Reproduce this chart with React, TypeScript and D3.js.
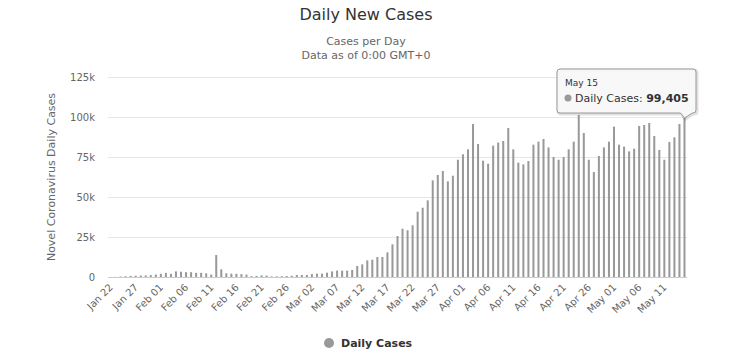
import React, { useEffect, useRef } from 'react';
import * as d3 from 'd3';

// daily new cases, Jan 22 .. May 15
const dailyCases = [
  0, 100, 290, 490, 680,
  800, 900, 1000, 1200, 1500,
  2000, 2600, 2000, 3500, 3300, 3000, 3000, 2600, 2600, 2300, 1500,
  13750, 4800, 2300, 2100, 2000, 1800, 1500, 500, 700, 1000,
  900, 400, 400, 500,
  600, 800, 1250, 1250,
  1300, 1800, 2100, 2100, 2700, 3500, 4000, 4000, 4000, 4400,
  6900, 7900, 10400, 10800, 12500, 12500, 15400, 20400, 25600, 30200,
  29200, 32300, 40800, 43300, 47900, 60400, 63750, 66250, 59800, 63300,
  73300,
  76700, 79800, 95600, 83100, 72700, 70800, 82100, 84000, 85000, 93100,
  79800, 71500, 70400, 72500, 82700, 84600, 86250, 81000, 75000, 73300,
  75000, 79800, 84600, 101250, 90000, 73300, 65600, 75600, 81000, 84600,
  94000, 82700, 81500, 78500, 80200, 94400, 95000, 96250, 88100, 79400,
  73300, 84400, 87300, 95600, 99405,
];
const yTicks = [0, 25000, 50000, 75000, 100000, 125000];
const tickEvery = 5;

const chartTitle = 'Daily New Cases';
const subtitleLines = ['Cases per Day', 'Data as of 0:00 GMT+0'];
const yTitle = 'Novel Coronavirus Daily Cases';
const seriesName = 'Daily Cases';

const fmtDay = d3.timeFormat('%b %d');
const days = d3.timeDay.range(new Date(2020, 0, 22), new Date(2020, 4, 16));
const categories = days.map(d => fmtDay(d));

const App = () => {
  const ref = useRef(null);
  const width = 732;
  const height = 363;

  useEffect(() => {
    document.body.style.margin = '0';
    d3.select(ref.current).selectAll('*').remove();

    const font = '"DejaVu Sans", sans-serif';
    const margin = { top: 77, right: 45, bottom: 86, left: 108 };

    const svg = d3
      .select(ref.current)
      .attr('width', width)
      .attr('height', height)
      .style('display', 'block')
      .style('font-family', font);

    svg.append('rect').attr('width', width).attr('height', height).attr('fill', '#fff');

    const x = d3
      .scaleBand()
      .domain(categories)
      .range([margin.left, width - margin.right])
      .paddingInner(0.6)
      .paddingOuter(0.3);

    const y = d3
      .scaleLinear()
      .domain([0, 125000])
      .range([height - margin.bottom, margin.top]);

    // titles
    svg.append('text')
      .attr('x', width / 2).attr('y', 20)
      .attr('text-anchor', 'middle')
      .attr('fill', '#333')
      .style('font-size', '16px')
      .text(chartTitle);

    svg.selectAll('.sub')
      .data(subtitleLines)
      .enter()
      .append('text')
      .attr('x', width / 2)
      .attr('y', (d, i) => 45 + i * 13.5)
      .attr('text-anchor', 'middle')
      .attr('fill', '#666')
      .style('font-size', '11px')
      .text(d => d);

    // grid + y labels
    svg.selectAll('.grid')
      .data(yTicks.filter(t => t > 0))
      .enter()
      .append('line')
      .attr('x1', margin.left).attr('x2', width - margin.right)
      .attr('y1', d => Math.round(y(d)) + 0.5).attr('y2', d => Math.round(y(d)) + 0.5)
      .attr('stroke', '#e6e6e6');

    svg.selectAll('.ylab')
      .data(yTicks)
      .enter()
      .append('text')
      .attr('x', 95)
      .attr('y', d => y(d) + 3.5)
      .attr('text-anchor', 'end')
      .attr('fill', '#666')
      .style('font-size', '10px')
      .text(d => (d === 0 ? '0' : d / 1000 + 'k'));

    svg.append('text')
      .attr('transform', `translate(55,${(y(0) + y(125000)) / 2}) rotate(-90)`)
      .attr('text-anchor', 'middle')
      .attr('fill', '#666')
      .style('font-size', '11px')
      .text(yTitle);

    // bars
    svg.selectAll('.bar')
      .data(dailyCases)
      .enter()
      .append('rect')
      .attr('x', (d, i) => x(categories[i]))
      .attr('y', d => y(d))
      .attr('width', x.bandwidth())
      .attr('height', d => y(0) - y(d))
      .attr('fill', '#999');

    // x axis line
    svg.append('line')
      .attr('x1', margin.left).attr('x2', width - margin.right)
      .attr('y1', y(0) + 0.5).attr('y2', y(0) + 0.5)
      .attr('stroke', '#ccc');

    const cx = i => x(categories[i]) + x.bandwidth() / 2;

    svg.selectAll('.xlab')
      .data(categories.filter((c, i) => i % tickEvery === 0))
      .enter()
      .append('text')
      .attr('transform', (d, i) => `translate(${cx(i * tickEvery) + 3},${y(0) + 11}) rotate(-45)`)
      .attr('text-anchor', 'end')
      .attr('fill', '#666')
      .style('font-size', '10px')
      .text(d => d);

    // legend
    svg.append('circle').attr('cx', 329).attr('cy', 343).attr('r', 5).attr('fill', '#999');
    svg.append('text')
      .attr('x', 341).attr('y', 347)
      .attr('fill', '#333')
      .style('font-size', '11px')
      .style('font-weight', 'bold')
      .text(seriesName);

    // tooltip on the last point
    const last = dailyCases.length - 1;
    const tipX = cx(last);
    const tipY = y(dailyCases[last]);
    const bx = 557, by = 69, bw = 139, bh = 44;
    const tipPath = `M${bx + 3},${by} H${bx + bw - 3} Q${bx + bw},${by} ${bx + bw},${by + 3} V${by + bh - 3}
      Q${bx + bw},${by + bh} ${bx + bw - 3},${by + bh} H${tipX + 8} L${tipX},${tipY} L${tipX - 4},${by + bh}
      H${bx + 3} Q${bx},${by + bh} ${bx},${by + bh - 3} V${by + 3} Q${bx},${by} ${bx + 3},${by} Z`;
    svg.append('path')
      .attr('d', tipPath)
      .attr('transform', 'translate(1,1)')
      .attr('fill', 'none')
      .attr('stroke', 'rgba(0,0,0,0.12)')
      .attr('stroke-width', 3);
    svg.append('path')
      .attr('d', tipPath)
      .attr('fill', 'rgba(247,247,247,0.92)')
      .attr('stroke', '#999');

    const tip = svg.append('g').style('font-size', '11px').attr('fill', '#333');
    tip.append('text')
      .attr('x', bx + 8).attr('y', by + 17)
      .style('font-size', '9px')
      .text(categories[last]);
    tip.append('circle').attr('cx', bx + 11).attr('cy', by + 29).attr('r', 3.5).attr('fill', '#999');
    const line2 = tip.append('text').attr('x', bx + 18).attr('y', by + 33);
    line2.append('tspan').text(seriesName + ': ');
    line2.append('tspan').style('font-weight', 'bold').text(d3.format(',')(dailyCases[last]));
  }, []);

  return <svg ref={ref}></svg>;
};

export default App;
